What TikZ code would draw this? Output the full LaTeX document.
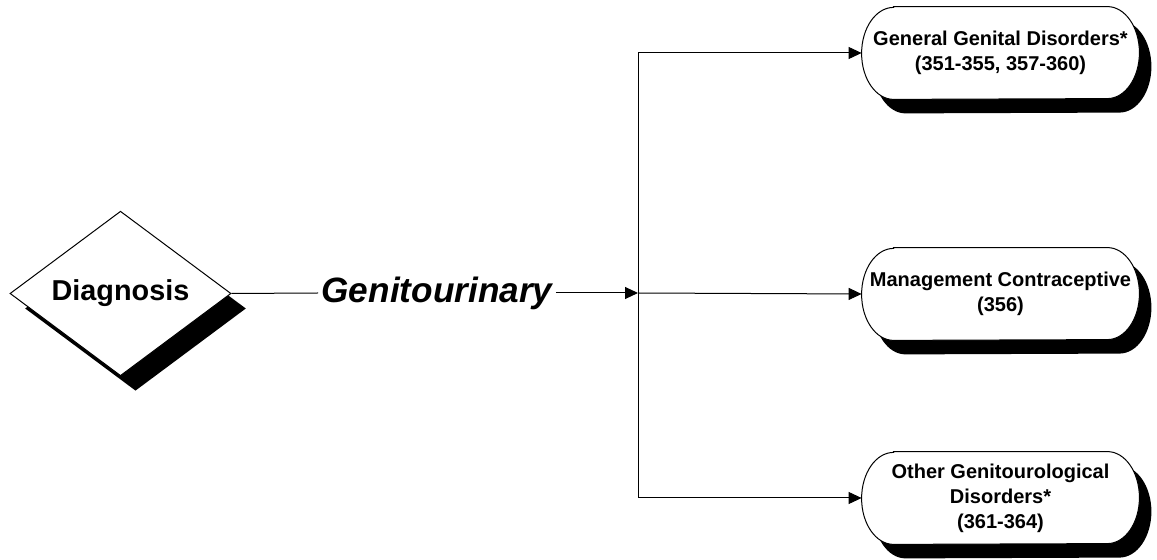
\documentclass[tikz,border=0pt]{standalone}
\usepackage{fontspec}
\setmainfont{Liberation Sans}
\usetikzlibrary{shapes.geometric,shadows,arrows.meta,backgrounds}

\begin{document}
\begin{tikzpicture}[x=0.5pt, y=-0.5pt]
    \tikzset{decision/.style={diamond, draw, fill=white, line width=0.5pt, inner sep=0pt,
                minimum width=110.5pt, minimum height=73.5pt,
                font=\fontsize{14.4}{16}\selectfont\bfseries,
                drop shadow={shadow xshift=7.5pt, shadow yshift=-7.5pt, fill=black, opacity=1}},
             outcome/.style={minimum width=138.5pt, minimum height=46pt, inner sep=1pt, align=center,
                font=\fontsize{10}{12.5}\selectfont\bfseries},
             flow/.style={line width=0.5pt, -{Triangle[length=6.5pt, width=6pt]}}}

    \useasboundingbox (0,0) rectangle (1157,560);

    \node[decision] (diag) at (120.5,293.5) {Diagnosis};
    \node[font=\fontsize{17.6}{20}\selectfont\bfseries\itshape, inner xsep=1.5pt, inner ysep=0pt] (gu) at (437,293) {Genitourinary};
    \coordinate (j) at (638,293);

    \node[outcome] (gen)  at (1000.5,53)  {General Genital Disorders*\\(351-355, 357-360)};
    \node[outcome] (mgmt) at (1000.5,294) {Management Contraceptive\\(356)};
    \node[outcome] (oth)  at (1000.5,498) {Other Genitourological\\Disorders*\\(361-364)};

    % rounded outcome boxes with their shadows
    \begin{scope}[on background layer]
        \foreach \n in {gen,mgmt,oth} {
            \fill[black] ([xshift=22pt, yshift=-7pt]\n.north west) -- ([xshift=-10pt, yshift=-7pt]\n.north east)
                arc[start angle=90, end angle=-90, x radius=16pt, y radius=23pt]
                -- ([xshift=22pt, yshift=-7pt]\n.south west)
                arc[start angle=270, end angle=90, x radius=16pt, y radius=23pt] -- cycle;
            \draw[fill=white, line width=0.5pt] ([xshift=16pt]\n.north west) -- ([xshift=-16pt]\n.north east)
                arc[start angle=90, end angle=-90, x radius=16pt, y radius=23pt]
                -- ([xshift=16pt]\n.south west)
                arc[start angle=270, end angle=90, x radius=16pt, y radius=23pt] -- cycle;
        }
    \end{scope}

    \draw[line width=0.5pt] (diag.east) -- (gu.west);
    \draw[flow] (gu.east) -- (j);
    \draw[flow] (j) -- (mgmt.west);
    \draw[flow] (j) |- (gen.west);
    \draw[flow] (j) |- (oth.west);
\end{tikzpicture}
\end{document}
